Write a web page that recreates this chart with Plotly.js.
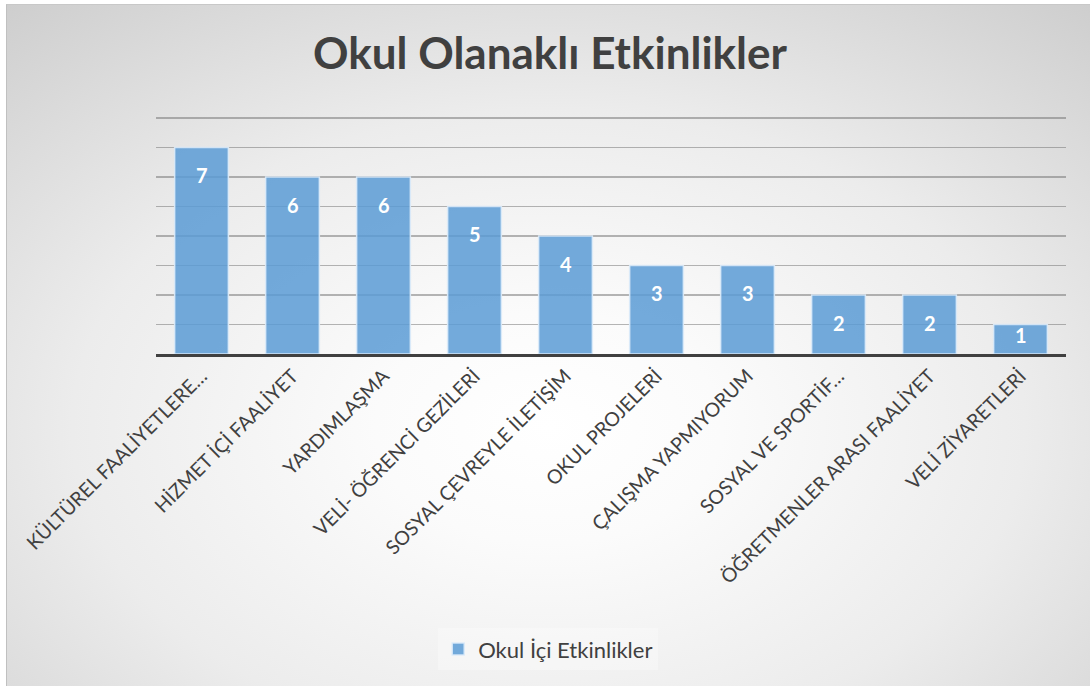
<!DOCTYPE html>
<html>
<head>
<meta charset="utf-8">
<script src="https://cdn.plot.ly/plotly-3.0.1.min.js"></script>
<style>
  html, body { margin: 0; padding: 0; background: #ffffff; }
  #wrap {
    position: absolute; left: 6px; top: 4px; width: 1083px; height: 682px;
    background: radial-gradient(ellipse 80% 85% at 50% 62%, #ffffff 0%, #fbfbfb 20%, #ececec 55%, #cbcbcb 100%);
    border-left: 1px solid #c0c0c0; border-top: 1px solid #c8c8c8;
  }
  #chart { position: absolute; left: -6px; top: -4px; width: 1091px; height: 686px; }
</style>
</head>
<body>
<div id="wrap"><div id="chart"></div></div>
<script>
const categories = [
  "KÜLTÜREL FAALİYETLERE…",
  "HİZMET İÇİ FAALİYET",
  "YARDIMLAŞMA",
  "VELİ- ÖĞRENCİ GEZİLERİ",
  "SOSYAL ÇEVREYLE İLETİŞİM",
  "OKUL PROJELERİ",
  "ÇALIŞMA YAPMIYORUM",
  "SOSYAL VE SPORTİF…",
  "ÖĞRETMENLER ARASI FAALİYET",
  "VELİ ZİYARETLERİ"
];
const values = [7, 6, 6, 5, 4, 3, 3, 2, 2, 1];
const seriesName = "Okul İçi Etkinlikler";
const chartTitle = "Okul Olanaklı Etkinlikler";

const trace = {
  type: "bar",
  x: categories,
  y: values,
  name: seriesName,
  marker: {
    color: "rgba(91,155,213,0.85)",
    line: { color: "rgba(220,235,250,0.9)", width: 1.5 }
  },
  hoverinfo: "x+y",
  showlegend: true
};

const labelAnnotations = categories.map((c, i) => ({
  x: c, y: values[i], xref: "x", yref: "y",
  text: "<b>" + values[i] + "</b>",
  showarrow: false,
  yanchor: "top",
  yshift: values[i] >= 2 ? -14 : 3,
  font: { family: "Lato, 'Open Sans', sans-serif", size: 20, color: "#ffffff" }
}));

const layout = {
  width: 1091, height: 686,
  paper_bgcolor: "rgba(0,0,0,0)",
  plot_bgcolor: "rgba(0,0,0,0)",
  margin: { l: 155, r: 26, t: 111, b: 333, autoexpand: false },
  title: {
    text: "<b>" + chartTitle + "</b>",
    xref: "paper", x: 0.433, xanchor: "center",
    yref: "container", y: 0.923, yanchor: "middle",
    font: { family: "Lato, 'Open Sans', sans-serif", size: 44, color: "#404040" }
  },
  bargap: 0.41,
  xaxis: {
    type: "category",
    tickangle: -45,
    tickfont: { family: "Lato, 'Open Sans', sans-serif", size: 19.5, color: "#404040" },
    showline: true, linecolor: "#404040", linewidth: 3,
    ticks: "", showgrid: false,
    ticklabelstandoff: 0,
    automargin: false,
    fixedrange: true
  },
  yaxis: {
    range: [0, 8.2],
    tickmode: "linear", tick0: 0, dtick: 1,
    showticklabels: false,
    showgrid: true,
    gridcolor: "rgba(110,110,110,0.5)",
    gridwidth: 1.5,
    zeroline: false,
    showline: false,
    ticks: "",
    automargin: false,
    fixedrange: true
  },
  legend: {
    orientation: "h",
    x: 0.431, xanchor: "center",
    y: -1.22, yanchor: "middle",
    bgcolor: "rgba(255,255,255,0.3)",
    font: { family: "Lato, 'Open Sans', sans-serif", size: 22, color: "#404040" }
  },
  annotations: labelAnnotations,
  showlegend: true
};

Plotly.newPlot("chart", [trace], layout, { displayModeBar: false, staticPlot: true });
</script>
</body>
</html>
